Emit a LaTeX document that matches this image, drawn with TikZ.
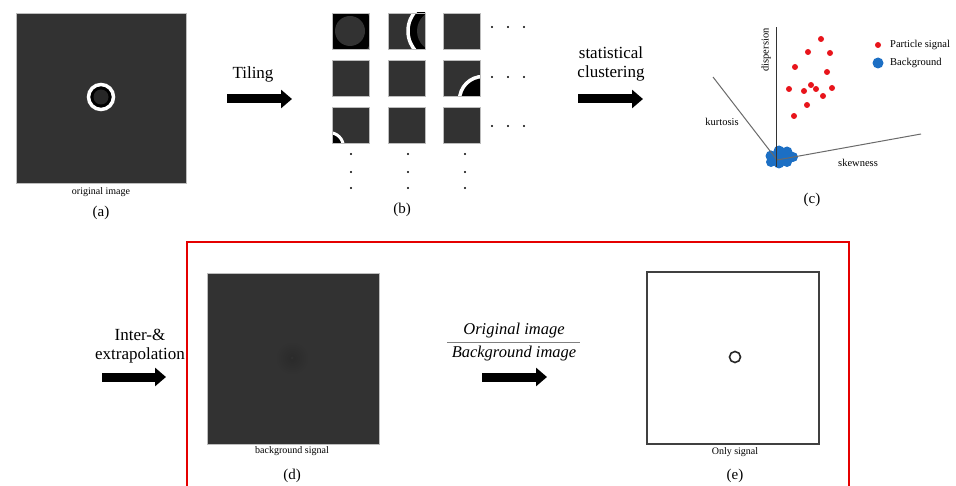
\documentclass[tikz,border=0pt]{standalone}
\usepackage{fontspec}
\setmainfont{Liberation Serif}
\usetikzlibrary{arrows.meta}
\definecolor{imgbg}{HTML}{323232}
\definecolor{imgcore}{HTML}{262626}
\definecolor{imgedge}{HTML}{BDBDBD}
\definecolor{haze}{HTML}{2A2A2A}
\definecolor{ptred}{HTML}{E8141B}
\definecolor{bgblue}{HTML}{1C6FC4}
\definecolor{axisgray}{HTML}{6A6A6A}
\tikzset{
  fatarrow/.style={line width=9pt,-{Triangle[length=11pt,width=18pt]}},
  lbl/.style={inner sep=0pt,font=\fontsize{10}{12}\selectfont},
  tag/.style={inner sep=0pt,font=\fontsize{15}{18}\selectfont},
  step label/.style={inner sep=0pt,align=center,font=\fontsize{17}{21}\selectfont},
  axlbl/.style={inner sep=0pt,font=\fontsize{10.5}{12}\selectfont},
  frac text/.style={inner sep=0pt,font=\fontsize{16.5}{18}\selectfont\itshape},
  picture frame/.style={fill=imgbg,draw=imgedge,line width=0.6pt},
  ring/.style={draw=white,line width=3.5pt},
  pdot/.style={circle,fill=ptred,inner sep=0pt,minimum size=6pt},
  bdot/.style={circle,fill=bgblue,inner sep=0pt,minimum size=11pt},
  ellip/.style={circle,fill=black,inner sep=0pt,minimum size=2.2pt},
}
\begin{document}
\begin{tikzpicture}[x=1pt,y=-1pt]
\clip (0,0) rectangle (956,486);
\useasboundingbox (0,0) rectangle (956,486);
\fill[white] (0,0) rectangle (956,486);

% ---------- (a) original image ----------
\draw[picture frame] (16,13) rectangle (186,183);
\fill[black] (101,97) circle (12);
\fill[imgcore] (101,97) circle (7.5);
\draw[ring] (101,97) circle (12.5);
\node[lbl] (laba) at (101,192) {original image};
\node[tag] (taga) at (101,213) {(a)};

% ---------- tiling arrow ----------
\node[step label] (tiling) at (253,74) {Tiling};
\coordinate (t1s) at (227,99);
\coordinate (t1e) at (292,99);
\draw[fatarrow] (t1s) -- (t1e);

% ---------- (b) tiles ----------
\foreach \cx in {332,388,443}{
  \foreach \cy in {13,60,107}{
    \fill[imgbg] (\cx,\cy) rectangle ++(37,36);
  }
}
% tile 1,1: centre of the particle
\begin{scope}
  \clip[rounded corners=3pt] (332,13) rectangle ++(37,36);
  \fill[black] (332,13) rectangle ++(37,36);
  \fill[imgbg] (350,31) circle (15);
\end{scope}
% tile 1,2: left part of the ring
\begin{scope}
  \clip (388,13) rectangle ++(37,36);
  \fill[black] (438,31) circle (29);
  \fill[imgbg] (438,31) circle (21);
  \draw[white,line width=3.5pt] (438,31) circle (30);
\end{scope}
% tile 2,3: ring entering at the lower right corner
\begin{scope}
  \clip (443,60) rectangle ++(37,36);
  \fill[black] (483,100) circle (23);
  \draw[white,line width=3.5pt] (483,100) circle (23.5);
\end{scope}
% tile 3,1: ring entering at the lower left corner
\begin{scope}
  \clip (332,107) rectangle ++(37,36);
  \fill[black] (329,147) circle (14);
  \draw[white,line width=3pt] (329,147) circle (14.5);
\end{scope}
\foreach \cx in {332,388,443}{
  \foreach \cy in {13,60,107}{
    \draw[imgedge,line width=0.5pt] (\cx,\cy) rectangle ++(37,36);
  }
}
% continuation dots
\foreach \y [count=\r] in {27,77,126}{
  \foreach \x [count=\c] in {492,508,524}{
    \node[ellip] (hd\r\c) at (\x,\y) {};
  }
}
\foreach \x [count=\c] in {351,408,465}{
  \foreach \y [count=\r] in {154,172,188}{
    \node[ellip] (vd\c\r) at (\x,\y) {};
  }
}
\node[tag] (tagb) at (402,210) {(b)};

% ---------- clustering arrow ----------
\node[step label] (clust) at (611,64) {statistical\\[-2pt]clustering};
\coordinate (t2s) at (578,99);
\coordinate (t2e) at (643,99);
\draw[fatarrow] (t2s) -- (t2e);

% ---------- (c) feature space ----------
\coordinate (orig) at (777,160);
\coordinate (ktop) at (713,77);
\coordinate (dtop) at (776,27);
\coordinate (send) at (921,134);
\fill[bgblue] (771,156) circle (5.5) (779,151) circle (5.5) (787,152) circle (5.5)
  (793,157) circle (5) (787,162) circle (5) (779,163) circle (5.5)
  (771,162) circle (5) (781,157) circle (6);
\draw[axisgray,line width=1pt] (ktop) -- (orig);
\draw[axisgray,line width=1pt] (orig) -- (send);
\draw[black!80,line width=1pt] (776,167) -- (dtop);
\node[axlbl,rotate=90] (disp) at (766,50) {dispersion};
\node[axlbl] (kurt) at (722,122) {kurtosis};
\node[axlbl] (skew) at (858,163) {skewness};
\foreach \x/\y [count=\i] in {821/39,808/52,830/53,795/67,827/72,811/85,789/89,804/91,816/89,832/88,823/96,807/105,794/116}{
  \node[pdot] (p\i) at (\x,\y) {};
}
\node[pdot] (legp) at (878,45) {};
\node[axlbl,anchor=west] (legpt) at (890,45) {Particle signal};
\node[bdot] (legb) at (878,63) {};
\node[axlbl,anchor=west] (legbt) at (890,63) {Background};
\node[tag] (tagc) at (812,200) {(c)};

% ---------- red frame around the second stage ----------
\draw[red!90!black,line width=1.4pt] (849,500) -- (849,242) -- (187,242) -- (187,500);

% ---------- inter/extrapolation arrow ----------
\node[step label] (inter) at (140,346) {Inter-\&\\[-2pt]extrapolation};
\coordinate (t3s) at (102,377);
\coordinate (t3e) at (166,377);
\draw[fatarrow] (t3s) -- (t3e);

% ---------- (d) background signal ----------
\draw[picture frame] (207,273) rectangle (379,444);
\shade[inner color=haze,outer color=imgbg] (292,358) circle (17);
\fill[black!4!imgbg] (292,358) circle (1.5);
\node[lbl] (labd) at (292,451) {background signal};
\node[tag] (tagd) at (292,476) {(d)};

% ---------- division arrow ----------
\node[frac text] (numer) at (514,331) {Original image};
\node[frac text] (denom) at (514,354) {Background image};
\coordinate (barl) at (447,343);
\coordinate (barr) at (580,343);
\draw[black!50,line width=1pt] (barl) -- (barr);
\coordinate (t4s) at (482,377);
\coordinate (t4e) at (547,377);
\draw[fatarrow] (t4s) -- (t4e);

% ---------- (e) signal only ----------
\draw[black!75,line width=1.3pt,fill=white] (647,272) rectangle (819,444);
\draw[black!85,line width=1.6pt] (735,357) circle (5.5);
\node[lbl] (labe) at (735,452) {Only signal};
\node[tag] (tage) at (735,476) {(e)};
\end{tikzpicture}
\end{document}
